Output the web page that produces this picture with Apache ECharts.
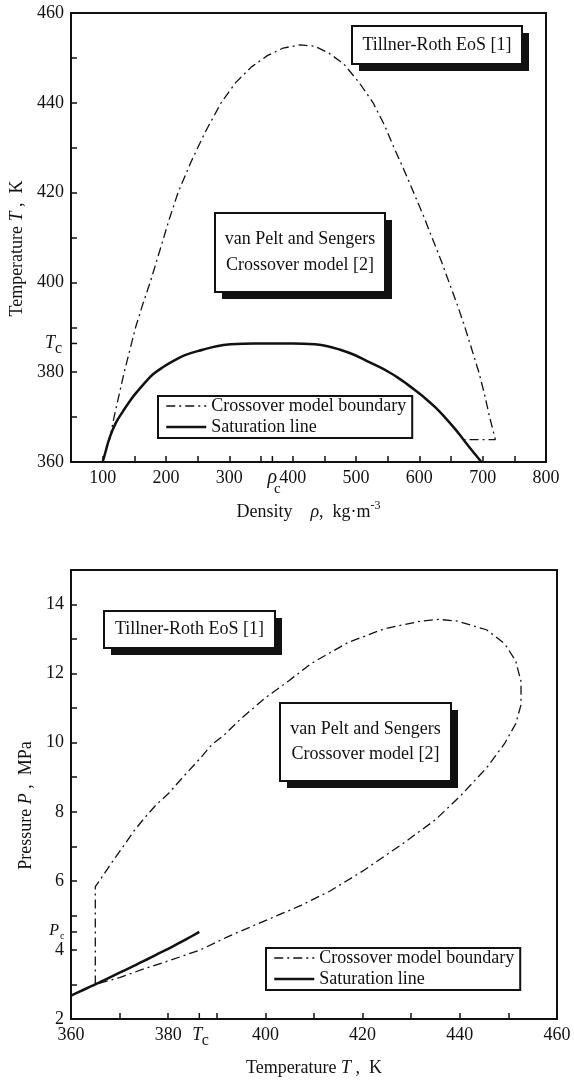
<!DOCTYPE html>
<html>
<head>
<meta charset="utf-8">
<script src="https://cdn.jsdelivr.net/npm/echarts@6/dist/echarts.min.js"></script>
<style>
html,body{margin:0;padding:0;background:#fff}
#chart{width:574px;height:1081px}
</style>
</head>
<body>
<div id="chart"></div>
<script>
// ---- top panel: T vs density ----
var topXLabels = [100, 200, 300, 400, 500, 600, 700, 800];
var topYLabels = [360, 380, 400, 420, 440, 460];
var rhoC = 368;
var Tc = 386.4;
// crossover model boundary [rho, T]
var topBoundary = [
  [111, 365], [118, 370], [126, 375], [134, 380], [143, 385], [152, 390],
  [163, 395], [175, 400], [190, 407], [205, 414], [219, 420], [240, 427],
  [262, 433.5], [287, 440], [310, 444.5], [335, 448], [360, 450.5],
  [385, 452.2], [412, 452.9], [435, 452.6], [458, 451], [481, 448.6],
  [505, 444.5], [527, 440], [545, 435], [560, 430], [576, 425], [591, 420],
  [606, 415], [620, 410], [634, 405], [647, 400], [660, 395], [672, 390],
  [683, 385], [694, 380], [703, 375], [711, 370], [720, 365], [671, 365]
];
// saturation line [rho, T]
var topSaturation = [
  [100, 360], [105, 362.5], [110, 365], [120, 368.5], [133, 371.5],
  [145, 374], [157, 376.1], [170, 378.2], [180, 379.6], [195, 381.1],
  [209, 382.3], [230, 383.8], [258, 385], [280, 385.8], [302, 386.2],
  [340, 386.4], [400, 386.4], [435, 386.2], [455, 385.8], [475, 385],
  [495, 384], [516, 382.6], [535, 381.3], [551, 380.1], [566, 378.8],
  [580, 377.4], [595, 375.8], [610, 374.1], [625, 372.2], [640, 370],
  [655, 367.6], [668, 365.3], [680, 363.1], [690, 361.4], [698, 360]
];

// ---- bottom panel: P vs T ----
var botXLabels = [360, 380, 400, 420, 440, 460];
var botYLabels = [2, 4, 6, 8, 10, 12, 14];
var Pc = 4.52;
// crossover model boundary [T, P]
var botBoundary = [
  [365, 3.0], [365, 5.83], [366, 6.03], [368, 6.45], [370.5, 6.95],
  [373, 7.45], [375, 7.8], [377.5, 8.2], [380, 8.52], [383, 9.0],
  [386.6, 9.55], [389, 9.95], [391.5, 10.22], [395, 10.7], [400, 11.3],
  [404.9, 11.8], [409.5, 12.3], [417, 12.9], [424.5, 13.3], [432, 13.52],
  [435.7, 13.57], [439.5, 13.52], [445.5, 13.27], [449.2, 12.87],
  [451.5, 12.37], [452.6, 11.77], [452.6, 11.1], [451.5, 10.55],
  [449.2, 9.97], [445.5, 9.27], [440.2, 8.47], [435, 7.77], [428.2, 7.07],
  [420, 6.28], [413.2, 5.7], [407.2, 5.28], [400, 4.85], [392.2, 4.38],
  [386.6, 4.0], [380, 3.68], [375, 3.45], [370, 3.2], [365, 3.0]
];
// saturation line [T, P]
var botSaturation = [
  [360, 2.68], [362.5, 2.84], [365, 3.0], [367.5, 3.17], [370, 3.34],
  [372.5, 3.51], [375, 3.68], [377.5, 3.86], [380, 4.03], [382.5, 4.22],
  [385, 4.41], [386.4, 4.52]
];

var seriesNames = ['Crossover model boundary', 'Saturation line'];

var FONT = 'Liberation Serif';
var INK = '#111';

function labelFrom(list) {
  return function (v) { return list.indexOf(v) >= 0 ? String(v) : ''; };
}

function valueAxis(grid, min, max, interval, labels, name, gap, pad) {
  return {
    gridIndex: grid, type: 'value', min: min, max: max, interval: interval,
    axisLine: { show: true, lineStyle: { color: INK, width: 2 } },
    axisTick: { show: true, inside: true, length: 6, lineStyle: { color: INK, width: 1.5 } },
    axisLabel: { formatter: labelFrom(labels), fontFamily: FONT, fontSize: 18, color: INK, margin: 7 },
    splitLine: { show: false },
    name: name, nameLocation: 'middle', nameGap: gap,
    nameTextStyle: {
      fontFamily: FONT, fontSize: 18, color: INK, padding: pad || 0,
      rich: {
        n: { fontFamily: FONT, fontSize: 18, color: INK },
        i: { fontFamily: FONT, fontSize: 18, color: INK, fontStyle: 'italic' },
        sup: { fontFamily: FONT, fontSize: 12, color: INK, padding: [0, 0, 12, 0] }
      }
    }
  };
}

// short extra tick + subscripted label at a critical value
function critTick(xi, yi, point, dir, main, sub, o) {
  return {
    type: 'custom', xAxisIndex: xi, yAxisIndex: yi, silent: true, z: 10,
    data: [point],
    renderItem: function (params, api) {
      var p = api.coord([api.value(0), api.value(1)]);
      var tick = dir === 'x'
        ? { x1: p[0], y1: p[1], x2: p[0], y2: p[1] - 6 }
        : { x1: p[0], y1: p[1], x2: p[0] + 6, y2: p[1] };
      return {
        type: 'group',
        children: [
          { type: 'line', shape: tick, style: { stroke: INK, lineWidth: 1.5 } },
          { type: 'text', x: p[0] + o.mx, y: p[1] + o.my,
            style: { text: main, font: 'italic ' + o.ms + 'px "' + FONT + '"', fill: INK,
                     align: o.ma, verticalAlign: 'middle' } },
          { type: 'text', x: p[0] + o.sx, y: p[1] + o.sy,
            style: { text: sub, font: o.ss + 'px "' + FONT + '"', fill: INK,
                     align: o.sa, verticalAlign: 'middle' } }
        ]
      };
    }
  };
}

function noteBox(x, y, w, h, lines, lineGap) {
  var children = [
    { type: 'rect', shape: { x: x + 7, y: y + 7, width: w, height: h }, style: { fill: INK } },
    { type: 'rect', shape: { x: x, y: y, width: w, height: h }, style: { fill: '#fff', stroke: INK, lineWidth: 2 } }
  ];
  var y0 = y + h / 2 - (lines.length - 1) * lineGap / 2;
  lines.forEach(function (t, k) {
    children.push({ type: 'text', x: x + w / 2, y: y0 + k * lineGap,
      style: { text: t, font: '18px "' + FONT + '"', fill: INK, align: 'center', verticalAlign: 'middle' } });
  });
  return { type: 'group', children: children };
}

function legendAt(left, top) {
  return {
    data: seriesNames, left: left, top: top, orient: 'vertical',
    itemWidth: 40, itemHeight: 14, itemGap: 3, selectedMode: false,
    padding: [1, 6, 2, 7], borderColor: INK, borderWidth: 2, backgroundColor: '#fff',
    itemStyle: { opacity: 0 },
    lineStyle: { width: 'inherit' },
    textStyle: { fontFamily: FONT, fontSize: 18, color: INK }
  };
}

var dashDot = { color: INK, width: 1.3, type: [9, 4, 2, 4] };
var solid = { color: INK, width: 2.5, type: 'solid' };

var chart = echarts.init(document.getElementById('chart'), null, { renderer: 'canvas' });
chart.setOption({
  animation: false,
  backgroundColor: '#fff',
  grid: [
    { left: 71, top: 13, width: 475, height: 449, show: true, borderColor: INK, borderWidth: 2 },
    { left: 71, top: 570, width: 486, height: 449, show: true, borderColor: INK, borderWidth: 2 }
  ],
  xAxis: [
    valueAxis(0, 50, 800, 50, topXLabels,
      '{n|Density}    {i|ρ}{n|,  kg·m}{sup|-3}', 38),
    valueAxis(1, 360, 460, 10, botXLabels,
      '{n|Temperature }{i|T}{n| ,  K}', 40)
  ],
  yAxis: [
    valueAxis(0, 360, 460, 10, topYLabels,
      '{n|Temperature }{i|T}{n| ,  K}', 42, [0, 22, 0, 0]),
    valueAxis(1, 2, 15, 1, botYLabels,
      '{n|Pressure }{i|P}{n| ,  MPa}', 27, [0, 22, 0, 0])
  ],
  legend: [legendAt(158, 396), legendAt(266, 948)],
  graphic: [
    noteBox(352, 26, 170, 38, ['Tillner-Roth EoS [1]'], 0),
    noteBox(215, 213, 170, 79, ['van Pelt and Sengers', 'Crossover model [2]'], 26),
    noteBox(104, 611, 171, 37, ['Tillner-Roth EoS [1]'], 0),
    noteBox(280, 703, 171, 78, ['van Pelt and Sengers', 'Crossover model [2]'], 25)
  ],
  series: [
    { name: seriesNames[0], type: 'line', xAxisIndex: 0, yAxisIndex: 0, data: topBoundary,
      symbol: 'none', lineStyle: dashDot, itemStyle: { color: INK }, silent: true },
    { name: seriesNames[1], type: 'line', xAxisIndex: 0, yAxisIndex: 0, data: topSaturation,
      symbol: 'none', smooth: 0.4, lineStyle: solid, itemStyle: { color: INK }, silent: true },
    { name: seriesNames[0], type: 'line', xAxisIndex: 1, yAxisIndex: 1, data: botBoundary,
      symbol: 'none', lineStyle: dashDot, itemStyle: { color: INK }, silent: true },
    { name: seriesNames[1], type: 'line', xAxisIndex: 1, yAxisIndex: 1, data: botSaturation,
      symbol: 'none', smooth: 0.3, lineStyle: solid, itemStyle: { color: INK }, silent: true },
    critTick(0, 0, [rhoC, 360], 'x', 'ρ', 'c',
      { mx: 0, my: 16, ms: 20, ma: 'center', sx: 5, sy: 27, ss: 15, sa: 'center' }),
    critTick(0, 0, [50, Tc], 'y', 'T', 'c',
      { mx: -16, my: 0, ms: 18, ma: 'right', sx: -16, sy: 5, ss: 16, sa: 'left' }),
    critTick(1, 1, [Tc, 2], 'x', 'T', 'c',
      { mx: -2, my: 16, ms: 18, ma: 'center', sx: 6, sy: 22, ss: 16, sa: 'center' }),
    critTick(1, 1, [360, Pc], 'y', 'P', 'c',
      { mx: -12, my: -1, ms: 16, ma: 'right', sx: -11, sy: 4, ss: 10, sa: 'left' })
  ]
});
</script>
</body>
</html>
